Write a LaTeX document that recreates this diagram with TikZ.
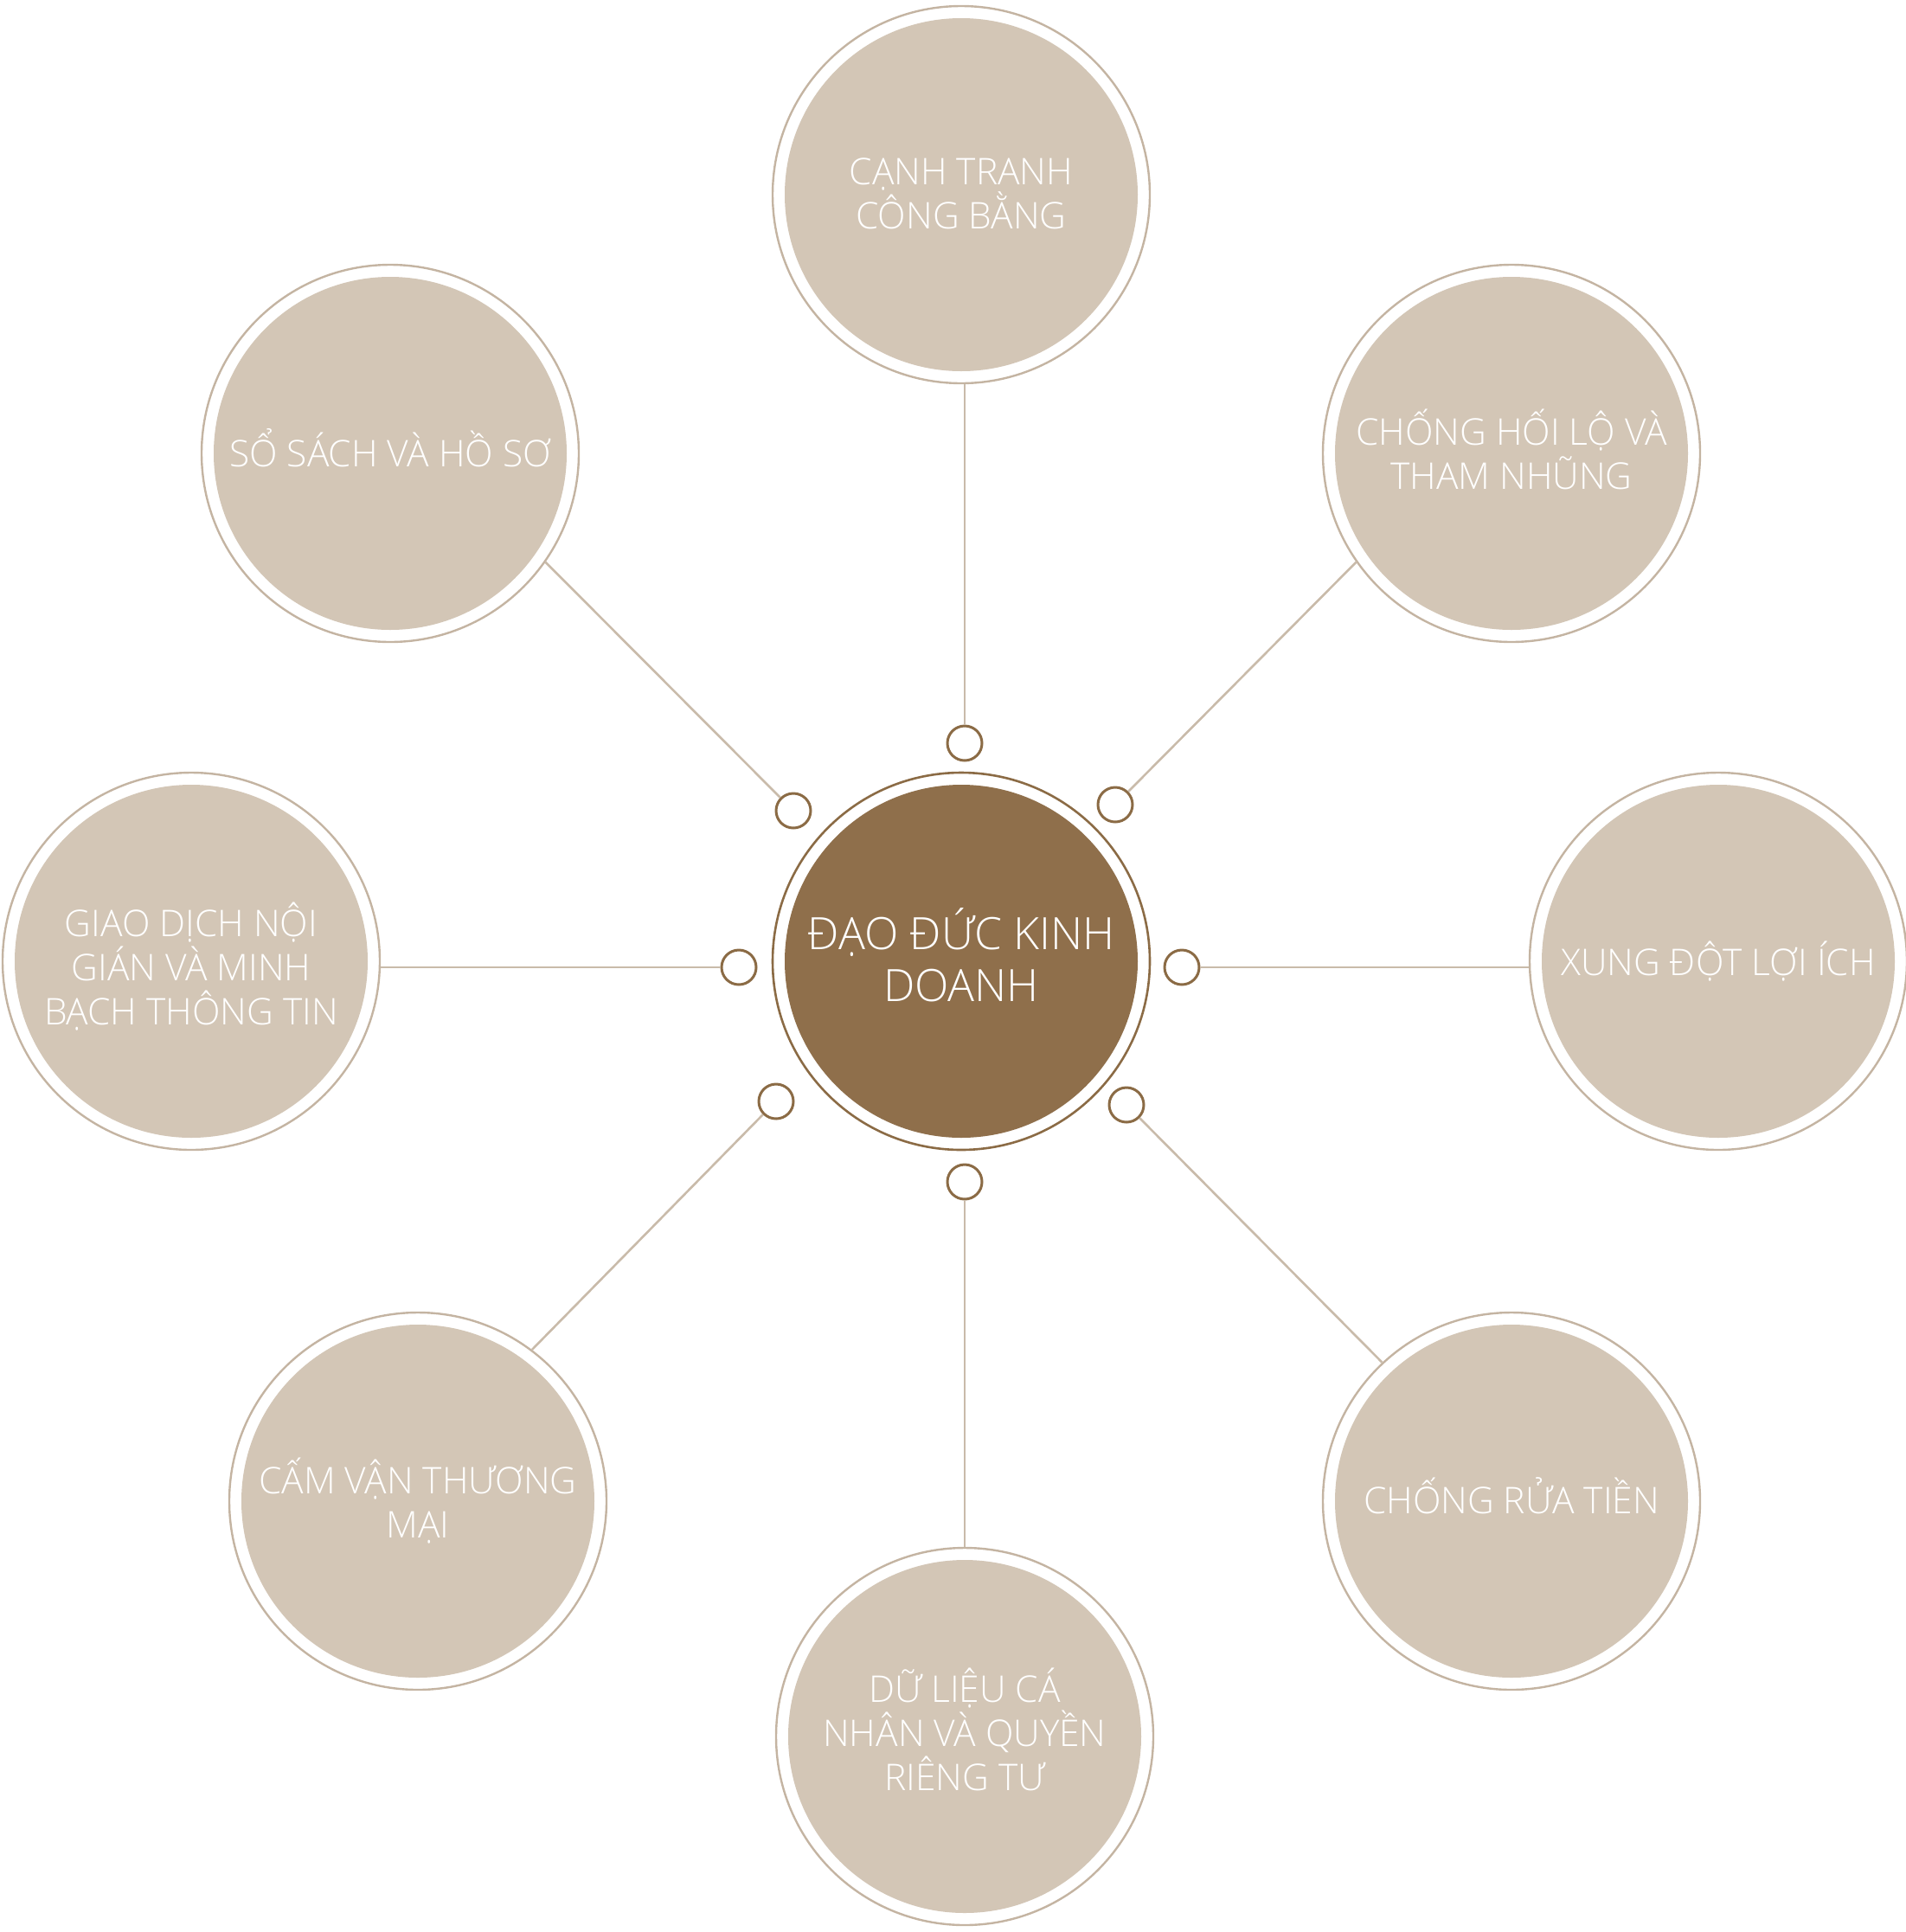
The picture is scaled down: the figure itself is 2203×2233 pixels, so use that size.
\documentclass[tikz,border=0pt]{standalone}
\usepackage{fontspec}
\setmainfont{Open Sans}[UprightFont=* Light]
\definecolor{beige}{HTML}{D3C6B6}
\definecolor{ringc}{HTML}{C4B4A2}
\definecolor{linec}{HTML}{C9BBAA}
\definecolor{brownf}{HTML}{8F6F4B}
\definecolor{brownl}{HTML}{8B6B45}
\tikzset{
  topic/.style={circle, minimum size=436pt, inner sep=0pt, draw=ringc, line width=2.4pt, fill=white,
    path picture={\fill[beige] (path picture bounding box.center) circle (204pt);}},
  hub/.style={circle, minimum size=436pt, inner sep=0pt, draw=brownl, line width=2.6pt, fill=white,
    path picture={\fill[brownf] (path picture bounding box.center) circle (204pt);}},
  ttxt/.style={text=white, align=center, inner sep=0pt, font=\fontsize{42.5}{51}\selectfont},
  htxt/.style={text=white, align=center, inner sep=0pt, font=\fontsize{51.5}{60}\selectfont},
  knob/.style={circle, minimum size=40pt, inner sep=0pt, draw=brownl, line width=3pt, fill=white},
  link/.style={draw=linec, line width=2.6pt}
}
\begin{document}
\begin{tikzpicture}[x=1pt,y=-1pt]
\useasboundingbox (0,0) rectangle (2203,2233);
\node[hub, label={[htxt, yshift=7pt]center:{ĐẠO ĐỨC KINH\\DOANH}}] (c) at (1111,1111) {};
\node[topic, label={[ttxt, yshift=1pt]center:{CẠNH TRANH\\CÔNG BẰNG}}] (tT) at (1111,225) {};
\node[topic, label={[ttxt, yshift=6pt]center:{SỔ SÁCH VÀ HỒ SƠ}}] (tTL) at (451,524) {};
\node[topic, label={[ttxt, yshift=5pt]center:{CHỐNG HỐI LỘ VÀ\\THAM NHŨNG}}] (tTR) at (1747,524) {};
\node[topic, label={[ttxt, yshift=-6pt]center:{GIAO DỊCH NỘI\\GIÁN VÀ MINH\\BẠCH THÔNG TIN}}] (tL) at (221,1111) {};
\node[topic, label={[ttxt, yshift=0pt]center:{XUNG ĐỘT LỢI ÍCH}}] (tR) at (1986,1111) {};
\node[topic, label={[ttxt, yshift=0pt]center:{CẤM VẬN THƯƠNG\\MẠI}}] (tBL) at (483,1735) {};
\node[topic, label={[ttxt, yshift=6pt]center:{CHỐNG RỬA TIỀN}}] (tBR) at (1747,1735) {};
\node[topic, label={[ttxt, yshift=8pt]center:{DỮ LIỆU CÁ\\NHÂN VÀ QUYỀN\\RIÊNG TƯ}}] (tB) at (1115,2007) {};
\node[knob] (sT) at (1115,859) {};
\node[knob] (sTL) at (917,937) {};
\node[knob] (sTR) at (1289,930) {};
\node[knob] (sL) at (854,1118) {};
\node[knob] (sR) at (1366,1118) {};
\node[knob] (sBL) at (897,1273) {};
\node[knob] (sBR) at (1302,1277) {};
\node[knob] (sB) at (1115,1366) {};
\draw[link] (sT.north) -- (sT.north |- tT.south);
\draw[link] (sTL.135) -- (tTL.-35);
\draw[link] (sTR.45) -- (tTR.215);
\draw[link] (sL.west) -- (sL.west -| tL.east);
\draw[link] (sR.east) -- (sR.east -| tR.west);
\draw[link] (sBL.-135) -- (tBL.53);
\draw[link] (sBR.-45) -- (tBR.133);
\draw[link] (sB.south) -- (sB.south |- tB.north);
\end{tikzpicture}
\end{document}
